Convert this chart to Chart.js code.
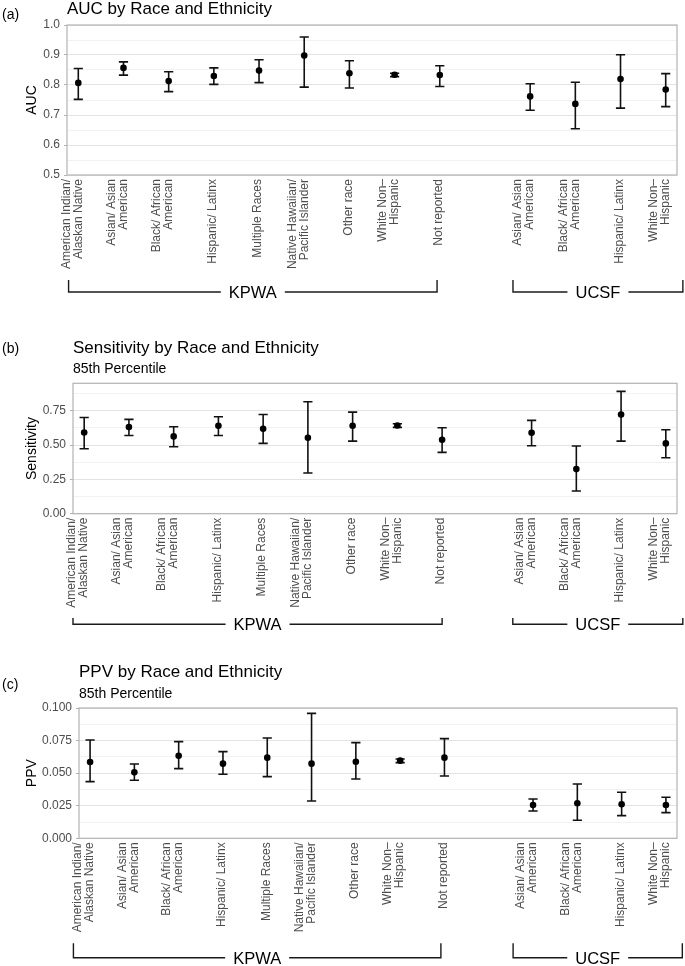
<!DOCTYPE html>
<html><head><meta charset="utf-8">
<script src="https://cdn.jsdelivr.net/npm/chart.js@4.4.1/dist/chart.umd.min.js"></script>
<style>
html,body{margin:0;padding:0;background:#fff;width:685px;height:966px;overflow:hidden;}
.panel{position:absolute;left:0;width:685px;}
</style></head><body>
<div class="panel" style="top:0;height:325px"><canvas id="cA"></canvas></div>
<div class="panel" style="top:325px;height:325px"><canvas id="cB"></canvas></div>
<div class="panel" style="top:650px;height:316px"><canvas id="cC"></canvas></div>
<script>
// ---- categories (label lines) ----
const kpwaCategories = [
  ["American Indian/","Alaskan Native"],
  ["Asian/ Asian","American"],
  ["Black/ African","American"],
  ["Hispanic/ Latinx"],
  ["Multiple Races"],
  ["Native Hawaiian/","Pacific Islander"],
  ["Other race"],
  ["White Non\u2013","Hispanic"],
  ["Not reported"]
];
const ucsfCategories = [
  ["Asian/ Asian","American"],
  ["Black/ African","American"],
  ["Hispanic/ Latinx"],
  ["White Non\u2013","Hispanic"]
];
const groupNames = ["KPWA","UCSF"];

// ---- series (KPWA first, then UCSF) ----
const aucMean = [0.807,0.857,0.813,0.830,0.848,0.898,0.839,0.834,0.833, 0.762,0.737,0.820,0.785];
const aucLow  = [0.752,0.833,0.778,0.802,0.808,0.793,0.790,0.828,0.795, 0.716,0.654,0.723,0.728];
const aucHigh = [0.855,0.877,0.844,0.857,0.884,0.960,0.881,0.839,0.864, 0.804,0.809,0.901,0.838];

const sensMean = [0.592,0.631,0.563,0.641,0.619,0.553,0.641,0.643,0.539, 0.590,0.325,0.723,0.512];
const sensLow  = [0.473,0.570,0.488,0.570,0.512,0.296,0.529,0.629,0.447, 0.495,0.165,0.529,0.408];
const sensHigh = [0.701,0.687,0.633,0.706,0.723,0.816,0.740,0.655,0.626, 0.680,0.493,0.891,0.612];

const ppvMean = [0.0586,0.0506,0.0634,0.0573,0.0619,0.0573,0.0588,0.0596,0.0619, 0.0256,0.0269,0.0261,0.0256];
const ppvLow  = [0.0435,0.0445,0.0535,0.0491,0.0473,0.0286,0.0455,0.0581,0.0478, 0.0210,0.0138,0.0174,0.0197];
const ppvHigh = [0.0754,0.0570,0.0742,0.0665,0.0770,0.0959,0.0734,0.0609,0.0765, 0.0302,0.0417,0.0353,0.0315];

// ---- tick labels ----
const aucTicks  = [0.5,0.6,0.7,0.8,0.9,1.0];
const sensTicks = [0.00,0.25,0.50,0.75];
const ppvTicks  = [0.000,0.025,0.050,0.075,0.100];

// ---------------------------------------------------------------
const FF = "'Liberation Sans', Arial, Helvetica, sans-serif";
Chart.defaults.font.family = FF;

const allCategories = kpwaCategories.concat(ucsfCategories);
// slot index on the x scale: KPWA groups, one empty slot, then UCSF
const slots = allCategories.map((c, i) => i < kpwaCategories.length ? i : i + 1);
const kLast = kpwaCategories.length - 1;
const uFirst = kpwaCategories.length + 1;
const uLast = uFirst + ucsfCategories.length - 1;

const errPlugin = {
  id: 'errbars',
  beforeDatasetsDraw(chart, args, o) {
    const {ctx, scales: {x, y}} = chart;
    ctx.save();
    ctx.strokeStyle = '#111';
    ctx.lineWidth = 1.6;
    o.low.forEach((lo, i) => {
      const px = x.getPixelForValue(slots[i]);
      const y0 = y.getPixelForValue(lo), y1 = y.getPixelForValue(o.high[i]);
      ctx.beginPath();
      ctx.moveTo(px, y0); ctx.lineTo(px, y1);
      ctx.moveTo(px - 4.6, y0); ctx.lineTo(px + 4.6, y0);
      ctx.moveTo(px - 4.6, y1); ctx.lineTo(px + 4.6, y1);
      ctx.stroke();
    });
    ctx.restore();
  }
};

const decoPlugin = {
  id: 'deco',
  afterDraw(chart, args, o) {
    const {ctx, chartArea: a, scales: {x}} = chart;
    ctx.save();
    // panel border
    ctx.strokeStyle = '#b3b3b3';
    ctx.lineWidth = 1.2;
    ctx.strokeRect(a.left, a.top, a.right - a.left, a.bottom - a.top);
    // letter, title, subtitle
    ctx.fillStyle = '#000';
    ctx.textAlign = 'left';
    ctx.textBaseline = 'alphabetic';
    ctx.font = '14px ' + FF;
    ctx.fillText(o.letter, 2, o.letterY);
    ctx.font = '17px ' + FF;
    ctx.fillText(o.title, a.left, o.titleY);
    if (o.subtitle) {
      ctx.font = '14px ' + FF;
      ctx.fillText(o.subtitle, a.left, o.subY);
    }
    // rotated category labels
    ctx.fillStyle = '#4d4d4d';
    ctx.font = '12px ' + FF;
    ctx.textAlign = 'right';
    ctx.textBaseline = 'middle';
    allCategories.forEach((lines, i) => {
      const px = x.getPixelForValue(slots[i]);
      ctx.save();
      ctx.translate(px, a.bottom + 4);
      ctx.rotate(-Math.PI / 2);
      lines.forEach((ln, j) => {
        const off = -(lines.length - 1 - j) * 12 + (lines.length === 1 ? -1 : 0);
        ctx.fillText(ln, 0, off);
      });
      ctx.restore();
    });
    // group brackets
    ctx.strokeStyle = '#1a1a1a';
    ctx.lineWidth = 1.4;
    ctx.fillStyle = '#000';
    ctx.font = '16.5px ' + FF;
    ctx.textAlign = 'center';
    ctx.textBaseline = 'middle';
    o.brackets.forEach((b, k) => {
      const x0 = x.getPixelForValue(b.from), x1 = x.getPixelForValue(b.to);
      const y = o.bracketY, yt = o.bracketTop;
      const cx = (x0 + x1) / 2;
      const g = ctx.measureText(groupNames[k]).width / 2 + 8;
      ctx.beginPath();
      ctx.moveTo(x0, yt); ctx.lineTo(x0, y); ctx.lineTo(cx - g, y);
      ctx.moveTo(cx + g, y); ctx.lineTo(x1, y); ctx.lineTo(x1, yt);
      ctx.stroke();
      ctx.fillText(groupNames[k], cx, y + 1.4);
    });
    ctx.restore();
  }
};

function isMajor(v, majors) { return majors.some(m => Math.abs(m - v) < 1e-9); }

function makeChart(id, cfg) {
  const minors = [];
  for (let i = 0; i < cfg.ticks.length - 1; i++) minors.push((cfg.ticks[i] + cfg.ticks[i + 1]) / 2);
  const last = cfg.ticks[cfg.ticks.length - 1];
  const step = cfg.ticks[1] - cfg.ticks[0];
  if (last + step / 2 <= cfg.max + 1e-9) minors.push(last + step / 2);
  const allTicks = cfg.ticks.concat(minors).sort((p, q) => p - q);
  return new Chart(document.getElementById(id), {
    type: 'scatter',
    data: {
      datasets: [{
        data: cfg.mean.map((v, i) => ({x: slots[i], y: v})),
        pointRadius: 3.3,
        pointHoverRadius: 3.3,
        pointBackgroundColor: '#000',
        pointBorderWidth: 0,
        showLine: false
      }]
    },
    options: {
      responsive: true,
      maintainAspectRatio: false,
      animation: false,
      layout: {padding: cfg.padding},
      plugins: {
        legend: {display: false},
        tooltip: {enabled: false},
        errbars: {low: cfg.low, high: cfg.high},
        deco: cfg.deco
      },
      scales: {
        x: {type: 'linear', display: false, min: -0.25, max: 13.25},
        y: {
          type: 'linear', min: cfg.min, max: cfg.max,
          afterBuildTicks: s => { s.ticks = allTicks.map(v => ({value: v})); },
          afterFit: s => { s.width = cfg.left; },
          border: {display: false},
          grid: {
            color: c => isMajor(c.tick.value, cfg.ticks) ? '#e3e3e3' : '#f2f2f2',
            lineWidth: 1,
            tickLength: 3,
            tickColor: c => isMajor(c.tick.value, cfg.ticks) ? '#b3b3b3' : 'rgba(0,0,0,0)'
          },
          ticks: {
            autoSkip: false,
            padding: 4,
            color: '#4d4d4d',
            font: {size: 12, family: FF},
            callback: v => isMajor(v, cfg.ticks) ? v.toFixed(cfg.dec) : ''
          },
          title: {
            display: true, text: cfg.yTitle, color: '#000',
            font: {size: 14, family: FF},
            padding: {top: 24, bottom: 0}
          }
        }
      }
    },
    plugins: [errPlugin, decoPlugin]
  });
}

makeChart('cA', {
  mean: aucMean, low: aucLow, high: aucHigh, ticks: aucTicks, min: 0.5, max: 1.0, dec: 1,
  yTitle: 'AUC', left: 67,
  padding: {top: 25, bottom: 150, left: 0, right: 8},
  deco: {
    letter: '(a)', letterY: 18.7, title: 'AUC by Race and Ethnicity', titleY: 14,
    bracketY: 292, bracketTop: 280,
    brackets: [{from: -0.215, to: kLast - 0.06}, {from: uFirst - 0.38, to: uLast + 0.38}]
  }
});

makeChart('cB', {
  mean: sensMean, low: sensLow, high: sensHigh, ticks: sensTicks, min: 0, max: 0.95, dec: 2,
  yTitle: 'Sensitivity', left: 73,
  padding: {top: 58.3, bottom: 136.3, left: 0, right: 8},
  deco: {
    letter: '(b)', letterY: 28, title: 'Sensitivity by Race and Ethnicity', titleY: 28,
    subtitle: '85th Percentile', subY: 48,
    bracketY: 299.3, bracketTop: 293,
    brackets: [{from: -0.25, to: kLast}, {from: uFirst - 0.42, to: uLast + 0.38}]
  }
});

makeChart('cC', {
  mean: ppvMean, low: ppvLow, high: ppvHigh, ticks: ppvTicks, min: 0, max: 0.1, dec: 3,
  yTitle: 'PPV', left: 79,
  padding: {top: 58, bottom: 127.7, left: 0, right: 8},
  deco: {
    letter: '(c)', letterY: 38.7, title: 'PPV by Race and Ethnicity', titleY: 26.7,
    subtitle: '85th Percentile', subY: 47.7,
    bracketY: 307.7, bracketTop: 293.3,
    brackets: [{from: -0.376, to: kLast - 0.08}, {from: uFirst - 0.45, to: uLast + 0.37}]
  }
});
</script>
</body></html>
